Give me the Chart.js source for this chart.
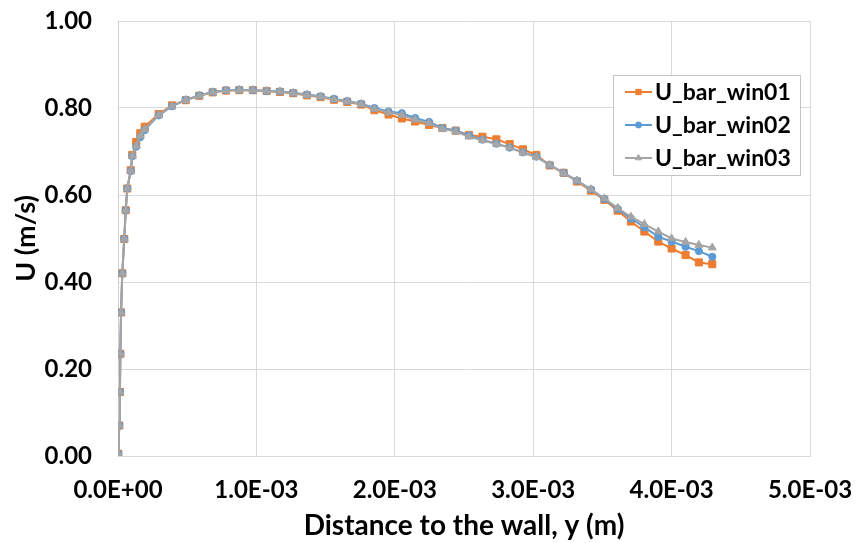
<!DOCTYPE html>
<html lang="en">
<head>
<meta charset="UTF-8" />
<title>U_bar profiles</title>
<script src="https://cdn.jsdelivr.net/npm/chart.js"></script>
<style>
  html, body {
    margin: 0;
    padding: 0;
    background: #ffffff;
  }
  #wrap {
    width: 856px;
    height: 543px;
  }
</style>
</head>
<body>

<div id="wrap">
  <canvas id="profileChart" width="856" height="543"></canvas>
</div>

<script>
// distance to the wall (m)
var distance = [
  2e-6, 9e-6, 1.4e-5, 1.7e-5, 2.2e-5, 3.1e-5, 4.5e-5, 5.6e-5, 6.7e-5, 9.2e-5, 1.03e-4, 1.32e-4, 1.61e-4, 1.93e-4,
  2.94e-4, 3.90e-4, 4.89e-4, 5.87e-4, 6.84e-4, 7.80e-4, 8.76e-4, 9.75e-4,
  1.074e-3, 1.170e-3, 1.266e-3, 1.365e-3, 1.464e-3, 1.560e-3, 1.656e-3, 1.757e-3, 1.853e-3, 1.955e-3,
  2.051e-3, 2.147e-3, 2.248e-3, 2.344e-3, 2.440e-3, 2.536e-3, 2.633e-3, 2.734e-3, 2.830e-3, 2.926e-3,
  3.023e-3, 3.119e-3, 3.220e-3, 3.316e-3, 3.417e-3, 3.514e-3, 3.610e-3, 3.706e-3, 3.803e-3, 3.904e-3,
  4.000e-3, 4.101e-3, 4.197e-3, 4.294e-3
];

var uWin01 = [
  0.005, 0.070, 0.147, 0.235, 0.330, 0.420, 0.499, 0.565, 0.615, 0.657, 0.692, 0.722, 0.742, 0.757,
  0.786, 0.806, 0.818, 0.828, 0.836, 0.840, 0.841, 0.841,
  0.839, 0.837, 0.834, 0.829, 0.825, 0.819, 0.814, 0.808, 0.795, 0.785,
  0.776, 0.769, 0.761, 0.754, 0.748, 0.738, 0.734, 0.728, 0.717, 0.705,
  0.692, 0.668, 0.651, 0.631, 0.610, 0.589, 0.564, 0.539, 0.516, 0.493,
  0.477, 0.462, 0.445, 0.441
];

var uWin02 = [
  0.005, 0.070, 0.147, 0.235, 0.330, 0.420, 0.499, 0.565, 0.615, 0.655, 0.689, 0.711, 0.733, 0.749,
  0.783, 0.804, 0.819, 0.829, 0.837, 0.841, 0.842, 0.841,
  0.839, 0.838, 0.835, 0.831, 0.827, 0.821, 0.816, 0.810, 0.800, 0.792,
  0.788, 0.777, 0.768, 0.754, 0.748, 0.737, 0.727, 0.718, 0.709, 0.698,
  0.688, 0.669, 0.651, 0.633, 0.613, 0.591, 0.568, 0.546, 0.526, 0.504,
  0.493, 0.481, 0.471, 0.458
];

var uWin03 = [
  0.005, 0.070, 0.147, 0.235, 0.330, 0.420, 0.499, 0.565, 0.615, 0.656, 0.690, 0.713, 0.736, 0.751,
  0.784, 0.805, 0.818, 0.828, 0.836, 0.840, 0.841, 0.841,
  0.839, 0.838, 0.834, 0.830, 0.826, 0.820, 0.815, 0.809, 0.798, 0.790,
  0.784, 0.773, 0.765, 0.752, 0.746, 0.734, 0.726, 0.717, 0.709, 0.697,
  0.687, 0.669, 0.650, 0.633, 0.613, 0.592, 0.570, 0.550, 0.533, 0.516,
  0.500, 0.492, 0.485, 0.479
];

var seriesNames = ["U_bar_win01", "U_bar_win02", "U_bar_win03"];
var xTicks = [0, 0.001, 0.002, 0.003, 0.004, 0.005];
var yTicks = [0, 0.2, 0.4, 0.6, 0.8, 1.0];

function toPoints(ys) {
  return distance.map(function (d, i) { return { x: d, y: ys[i] }; });
}

// 1.0E-03 style labels
function sciLabel(v) {
  var s = Number(v).toExponential(1).toUpperCase();
  var parts = s.split("E");
  var exp = parseInt(parts[1], 10);
  var sign = exp < 0 ? "-" : "+";
  var digits = String(Math.abs(exp));
  if (digits.length < 2) digits = "0" + digits;
  return parts[0] + "E" + sign + digits;
}

// legend box drawn inside the plot area, top right
var boxLegend = {
  id: "boxLegend",
  afterDraw: function (chart) {
    var ctx = chart.ctx;
    var area = chart.chartArea;
    var x = area.right - 197;
    var y = area.top + 54;
    var w = 187, h = 100;

    ctx.save();
    ctx.fillStyle = "#ffffff";
    ctx.fillRect(x, y, w, h);
    ctx.strokeStyle = "#c4c4c4";
    ctx.lineWidth = 1;
    ctx.strokeRect(x + 0.5, y + 0.5, w, h);

    chart.data.datasets.forEach(function (ds, i) {
      var cy = y + 17 + i * 33;
      ctx.strokeStyle = ds.borderColor;
      ctx.lineWidth = 2;
      ctx.beginPath();
      ctx.moveTo(x + 12, cy);
      ctx.lineTo(x + 39, cy);
      ctx.stroke();

      ctx.fillStyle = ds.backgroundColor;
      ctx.strokeStyle = ds.borderColor;
      ctx.lineWidth = 1;
      Chart.helpers.drawPoint(ctx, {
        pointStyle: ds.pointStyle,
        radius: ds.legendRadius,
        rotation: 0,
        borderWidth: 1
      }, x + 25.5, cy);

      ctx.fillStyle = "#000000";
      ctx.font = "bold 23px Lato";
      ctx.textAlign = "left";
      ctx.textBaseline = "middle";
      ctx.fillText(ds.label, x + 42, cy + 1);
    });
    ctx.restore();
  }
};

var colors = ["#ED7D31", "#5B9BD5", "#A5A5A5"];
var styles = ["rect", "circle", "triangle"];
var radii = [5, 3.6, 4.6];
var legendRadii = [3.8, 3, 3.6];
var seriesValues = [uWin01, uWin02, uWin03];

var datasets = seriesNames.map(function (name, i) {
  return {
    label: name,
    data: toPoints(seriesValues[i]),
    showLine: true,
    borderColor: colors[i],
    backgroundColor: colors[i],
    borderWidth: 2,
    pointStyle: styles[i],
    pointRadius: radii[i],
    pointBorderWidth: 1,
    pointBackgroundColor: colors[i],
    pointBorderColor: colors[i],
    legendRadius: legendRadii[i],
    order: 3 - i
  };
});

Chart.defaults.font.family = "Lato";

var ctx = document.getElementById("profileChart").getContext("2d");
var profileChart = new Chart(ctx, {
  type: "scatter",
  data: { datasets: datasets },
  options: {
    responsive: false,
    animation: false,
    layout: {
      padding: { top: 21, right: 46, left: 0, bottom: 0 }
    },
    plugins: {
      legend: { display: false },
      tooltip: { enabled: false }
    },
    scales: {
      x: {
        type: "linear",
        min: 0,
        max: 0.005,
        afterBuildTicks: function (scale) {
          scale.ticks = xTicks.map(function (v) { return { value: v }; });
        },
        afterFit: function (scale) {
          scale.height = 87;
          // edge labels may spill into the layout padding
          scale.paddingLeft = 0;
          scale.paddingRight = 0;
        },
        grid: { color: "#d9d9d9", lineWidth: 1, drawTicks: false },
        border: { color: "#d9d9d9" },
        ticks: {
          padding: 20,
          color: "#000000",
          font: { size: 24, weight: "bold" },
          maxRotation: 0,
          callback: function (v) { return sciLabel(v); }
        },
        title: {
          display: true,
          text: "Distance to the wall, y (m)",
          color: "#000000",
          font: { size: 28, weight: "bold" },
          padding: { top: 0, bottom: 0 }
        }
      },
      y: {
        type: "linear",
        min: 0,
        max: 1,
        afterBuildTicks: function (scale) {
          scale.ticks = yTicks.map(function (v) { return { value: v }; });
        },
        afterFit: function (scale) {
          scale.width = 118;
          scale.paddingTop = 0;
          scale.paddingBottom = 0;
        },
        grid: { color: "#d9d9d9", lineWidth: 1, drawTicks: false },
        border: { color: "#cfcfcf" },
        ticks: {
          padding: 26,
          color: "#000000",
          font: { size: 24, weight: "bold" },
          callback: function (v) { return Number(v).toFixed(2); }
        },
        title: {
          display: true,
          text: "U (m/s)",
          color: "#000000",
          font: { size: 27, weight: "bold" },
          padding: { top: 10, bottom: 0 }
        }
      }
    }
  },
  plugins: [boxLegend]
});
</script>

</body>
</html>
